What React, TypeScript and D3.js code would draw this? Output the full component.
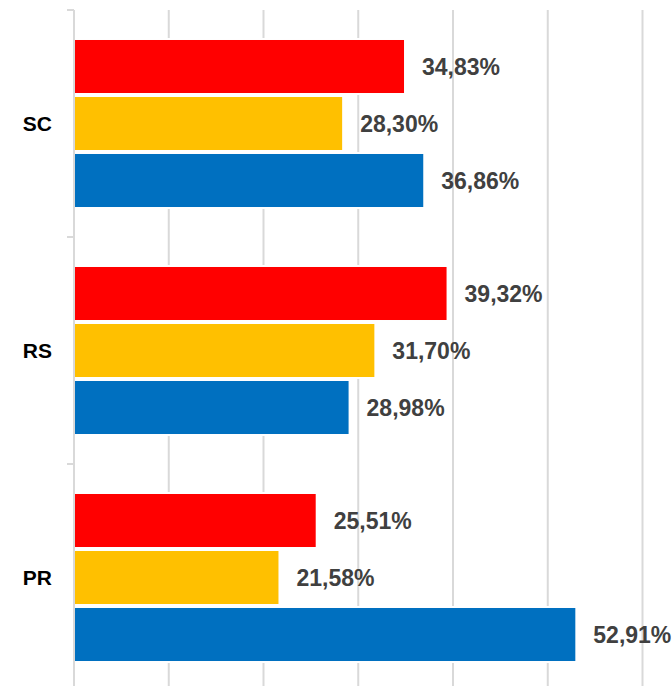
import React from "react";
import * as d3 from "d3";

const categories = ["SC", "RS", "PR"];
const seriesNames = ["Série 1", "Série 2", "Série 3"];
const seriesColors = ["#FF0000", "#FFC000", "#0070C0"];
const valuesSC = [34.83, 28.3, 36.86];
const valuesRS = [39.32, 31.7, 28.98];
const valuesPR = [25.51, 21.58, 52.91];
const values = [valuesSC, valuesRS, valuesPR];
const xTicks = [0, 10, 20, 30, 40, 50, 60];

const W = 672;
const H = 686;

export default function App() {
  const x = d3.scaleLinear().domain([0, 60]).range([74, 642.5]);
  const y = d3.scaleBand<string>().domain(categories).range([10, 691]);
  const bw = y.bandwidth();
  const inner = d3
    .scaleBand<number>()
    .domain([0, 1, 2])
    .range([28, bw - 28])
    .paddingInner(0.07)
    .paddingOuter(0.035);
  const fmt = (v: number) => v.toFixed(2).replace(".", ",") + "%";
  const grid = "#d9d9d9";

  return (
    <svg
      width={W}
      height={H}
      style={{ position: "absolute", left: 0, top: 0, background: "#fff" }}
      fontFamily="'Liberation Sans', Arial, sans-serif"
    >
      {xTicks.slice(1).map((t) => (
        <line key={t} x1={x(t)} x2={x(t)} y1={10} y2={691} stroke={grid} strokeWidth={2} />
      ))}
      {categories.map((c, ci) => {
        const y0 = y(c)!;
        return (
          <g key={c}>
            {values[ci].map((v, si) => {
              const by = y0 + inner(si)!;
              const bh = inner.bandwidth();
              return (
                <g key={si}>
                  <rect x={x(0)} y={by - 2} width={x(v) - x(0) + 2} height={bh + 4} fill="#fff" />
                  <rect x={x(0) + 1} y={by} width={x(v) - x(0) - 1} height={bh} fill={seriesColors[si]}>
                    <title>{seriesNames[si]}</title>
                  </rect>
                  <text
                    x={x(v) + 18}
                    y={by + bh / 2}
                    dominantBaseline="central"
                    fontSize={23}
                    fontWeight="bold"
                    fill="#404040"
                  >
                    {fmt(v)}
                  </text>
                </g>
              );
            })}
            <text
              x={52}
              y={y0 + bw / 2}
              textAnchor="end"
              dominantBaseline="central"
              fontSize={21}
              fontWeight="bold"
              fill="#000"
            >
              {c}
            </text>
          </g>
        );
      })}
      <line x1={x(0)} x2={x(0)} y1={10} y2={691} stroke={grid} strokeWidth={2} />
      {[...categories.map((c) => y(c)!), 691].map((t, i) => (
        <line key={i} x1={67} x2={x(0)} y1={t} y2={t} stroke={grid} strokeWidth={2} />
      ))}
    </svg>
  );
}
